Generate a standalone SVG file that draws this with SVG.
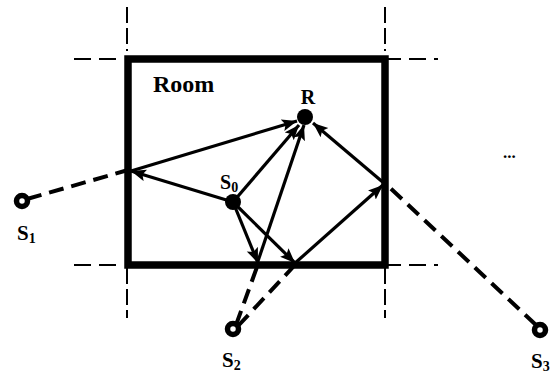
<svg xmlns="http://www.w3.org/2000/svg" width="551" height="373" viewBox="0 0 551 373">
<style>
text{font-family:"Liberation Serif","Times New Roman",serif;font-weight:bold;fill:#000}
.guide{stroke:#000;stroke-width:2;fill:none;stroke-dasharray:17 8}
.guidev{stroke:#000;stroke-width:2;fill:none;stroke-dasharray:16 5}
.ray{stroke:#000;stroke-width:3.2;fill:none;marker-end:url(#ah)}
.dash{stroke:#000;stroke-width:4;fill:none;stroke-dasharray:15 8}
.ring{fill:#fff;stroke:#000;stroke-width:5.5}
</style>
<defs>
<marker id="ah" markerUnits="userSpaceOnUse" markerWidth="16" markerHeight="14" refX="15" refY="6" orient="auto">
<path d="M0,0 L15,6 L0,12 L3,6 Z" fill="#000"/>
</marker>
</defs>
<rect width="551" height="373" fill="#fff"/>
<g id="guides">
<line class="guide" x1="74" y1="59" x2="121" y2="59"/>
<line class="guide" x1="74" y1="265" x2="121" y2="265"/>
<line class="guide" x1="384" y1="59" x2="438" y2="59" stroke-dasharray="17 9"/>
<line class="guide" x1="384" y1="265" x2="438" y2="265" stroke-dasharray="17 9"/>
<line class="guidev" x1="127" y1="7" x2="127" y2="51"/>
<line class="guidev" x1="385" y1="7" x2="385" y2="51"/>
<line class="guidev" x1="127" y1="268" x2="127" y2="318"/>
<line class="guidev" x1="385" y1="268" x2="385" y2="318"/>
</g>
<g id="room">
<rect x="128" y="59" width="257" height="206" fill="none" stroke="#000" stroke-width="7.5"/>
<text x="153" y="92" font-size="24">Room</text>
</g>
<g id="connectors">
<line class="dash" x1="27" y1="199" x2="128" y2="170"/>
<line class="dash" x1="236" y1="325" x2="257" y2="267"/>
<line class="dash" x1="238" y1="326" x2="294" y2="266" stroke-width="3.2" stroke-dasharray="10 5"/>
<line class="dash" x1="536" y1="325" x2="386" y2="184"/>
<line class="ray" x1="131" y1="171" x2="297" y2="121"/>
<line class="ray" x1="233" y1="202" x2="131" y2="171"/>
<line class="ray" x1="233" y1="202" x2="299" y2="125"/>
<line class="ray" x1="257" y1="264" x2="304" y2="125"/>
<line class="ray" x1="233" y1="202" x2="258" y2="263"/>
<line class="ray" x1="233" y1="202" x2="295" y2="263"/>
<line class="ray" x1="294" y1="264" x2="383" y2="185"/>
<line class="ray" x1="385" y1="184" x2="313" y2="123"/>
</g>
<g id="R">
<circle cx="305" cy="117" r="8"/>
<text x="308" y="104" font-size="20" text-anchor="middle">R</text>
</g>
<g id="S0">
<circle cx="233" cy="202" r="8"/>
<text x="220" y="189" font-size="20">S<tspan font-size="14" dy="3">0</tspan></text>
</g>
<g id="S1">
<circle class="ring" cx="22" cy="201" r="5.5"/>
<text x="17" y="240" font-size="21">S<tspan font-size="14" dy="3">1</tspan></text>
</g>
<g id="S2">
<circle class="ring" cx="233" cy="329" r="5.5"/>
<text x="222" y="367" font-size="21">S<tspan font-size="14" dy="3">2</tspan></text>
</g>
<g id="S3">
<circle class="ring" cx="540" cy="330" r="5.5"/>
<text x="531" y="368" font-size="21">S<tspan font-size="14" dy="3">3</tspan></text>
</g>
<g id="more">
<text x="503" y="158" font-size="17">...</text>
</g>
</svg>
